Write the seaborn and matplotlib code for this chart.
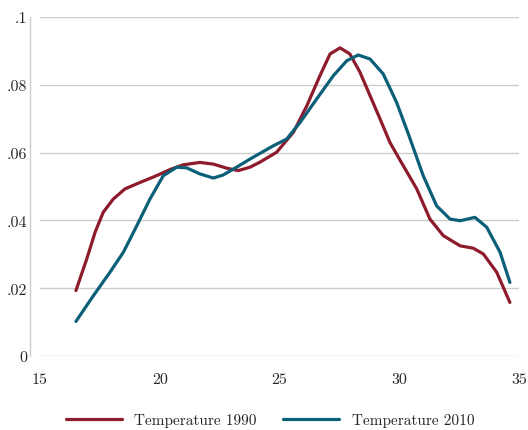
import pandas as pd
import seaborn as sns
import matplotlib.pyplot as plt

# temperature values (x) and density for each year
temp_1990 = [16.50, 16.95, 17.30, 17.64, 18.06, 18.55, 19.18, 19.87, 20.43, 20.98, 21.68,
             22.24, 22.80, 23.28, 23.77, 24.19, 24.88, 25.58, 26.14, 26.69, 27.11, 27.53,
             27.94, 28.36, 28.78, 29.20, 29.61, 30.03, 30.73, 31.28, 31.84, 32.54, 33.09,
             33.51, 34.07, 34.62]
dens_1990 = [.0193, .0286, .0365, .0424, .0463, .0493, .0512, .0532, .0550, .0564, .0571,
             .0566, .0554, .0547, .0557, .0572, .0601, .0660, .0738, .0827, .0891, .0909,
             .0891, .0837, .0768, .0699, .0630, .0578, .0493, .0404, .0355, .0325, .0318,
             .0301, .0247, .0158]

temp_2010 = [16.50, 17.23, 17.92, 18.48, 19.04, 19.59, 20.15, 20.71, 21.13, 21.68, 22.24,
             22.65, 23.21, 23.77, 24.19, 24.74, 25.30, 25.86, 26.55, 27.25, 27.81, 28.29,
             28.78, 29.33, 29.89, 30.38, 31.00, 31.56, 32.12, 32.54, 33.16, 33.65, 34.21,
             34.62]
dens_2010 = [.0102, .0178, .0247, .0306, .0384, .0463, .0532, .0557, .0555, .0537, .0525,
             .0534, .0557, .0581, .0598, .0620, .0640, .0689, .0758, .0827, .0871, .0888,
             .0876, .0832, .0748, .0655, .0532, .0443, .0404, .0399, .0409, .0380, .0306,
             .0217]

series_names = ['Temperature 1990', 'Temperature 2010']
colors = ['#8e1b2c', '#0c5f78']

x_ticks = [15, 20, 25, 30, 35]
y_ticks = [0, .02, .04, .06, .08, .1]
y_tick_labels = ['0', '.02', '.04', '.06', '.08', '.1']

df = pd.concat([
    pd.DataFrame({'temp': temp_1990, 'density': dens_1990, 'series': series_names[0]}),
    pd.DataFrame({'temp': temp_2010, 'density': dens_2010, 'series': series_names[1]}),
])

sns.set_style('white')
plt.rcParams['font.family'] = ['cmr10', 'DejaVu Serif']
plt.rcParams['axes.formatter.use_mathtext'] = True

fig = plt.figure(figsize=(5.28, 4.31), dpi=100)
ax = fig.add_axes([40 / 528, 1 - 357 / 431, 479 / 528, 339 / 431])

sns.lineplot(data=df, x='temp', y='density', hue='series', palette=colors,
             estimator=None, sort=True, linewidth=2.3, ax=ax,
             solid_joinstyle='round', solid_capstyle='round')

ax.set_xlim(15, 35)
ax.set_ylim(0, .1)
ax.set_xticks(x_ticks)
ax.set_xticklabels([str(t) for t in x_ticks])
ax.set_yticks(y_ticks)
ax.set_yticklabels(y_tick_labels)
ax.set_xlabel('')
ax.set_ylabel('')

ax.grid(axis='y', color='#cccccc', linewidth=1)
ax.grid(axis='x', visible=False)
for side in ['top', 'right', 'bottom']:
    ax.spines[side].set_visible(False)
# spine offset is in points: 7.2pt = 10px at 100 dpi
ax.spines['left'].set_position(('outward', 7.2))
ax.spines['left'].set_color('#cccccc')
ax.spines['left'].set_linewidth(1)

ax.tick_params(axis='x', length=1.5, width=0.8, color='#cccccc', pad=10, labelsize=11.5)
ax.tick_params(axis='y', length=0, pad=2, labelsize=11.5)

handles, labels = ax.get_legend_handles_labels()
ax.get_legend().remove()
fig.legend(handles, labels, loc='center', bbox_to_anchor=(270 / 528, 10 / 431), ncol=2,
           frameon=False, fontsize=11, handlelength=3.7, columnspacing=1.7,
           handletextpad=0.8, borderpad=0, borderaxespad=0)

fig.savefig('out.png', dpi=100)
